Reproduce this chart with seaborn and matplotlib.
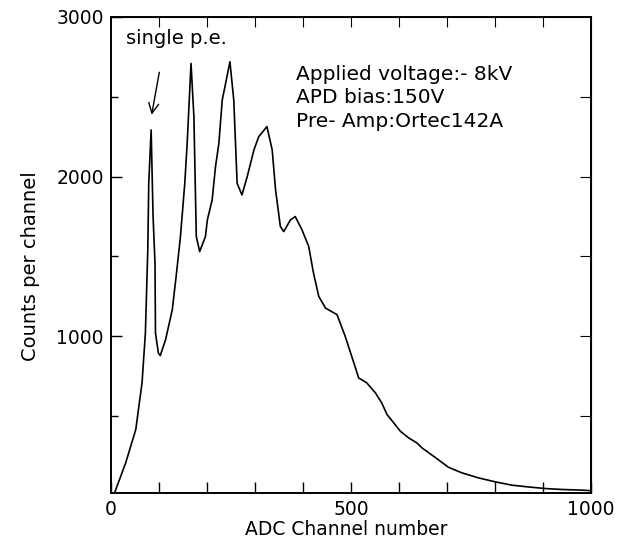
import numpy as np
import pandas as pd
import seaborn as sns
import matplotlib.pyplot as plt

# ADC spectrum
channel = [8, 31, 52, 65, 72, 77, 79, 84, 88, 92, 93, 99, 103, 114, 128, 136,
           145, 154, 159, 167, 173, 178, 185, 197, 201, 211, 218, 225, 232, 239,
           248, 256, 263, 273, 284, 298, 308, 325, 336, 343, 353, 360, 374, 384,
           398, 412, 422, 433, 447, 471, 488, 506, 516, 533, 551, 564, 575, 589,
           603, 620, 637, 648, 672, 703, 731, 765, 800, 835, 869, 904, 939, 980,
           998]
counts = [22, 209, 417, 709, 1021, 1542, 1958, 2292, 1750, 1459, 1021, 896, 880,
          979, 1167, 1375, 1625, 1958, 2208, 2708, 2375, 1625, 1531, 1625, 1729,
          1854, 2063, 2208, 2479, 2583, 2719, 2479, 1958, 1885, 2000, 2167, 2250,
          2313, 2167, 1917, 1688, 1656, 1729, 1750, 1667, 1563, 1396, 1250, 1177,
          1136, 1000, 834, 740, 709, 646, 584, 511, 459, 406, 365, 334, 302, 250,
          181, 146, 115, 90, 69, 58, 48, 42, 38, 35]

info_lines = ["Applied voltage:- 8kV", "APD bias:150V", "Pre- Amp:Ortec142A"]

df = pd.DataFrame({"ADC Channel number": channel, "Counts per channel": counts})

sns.set_style("ticks")
plt.rcParams["font.family"] = ["DejaVu Sans"]
plt.rcParams.update({
    "text.color": "black",
    "axes.labelcolor": "black",
    "axes.edgecolor": "black",
    "xtick.color": "black",
    "ytick.color": "black",
})

fig = plt.figure(figsize=(6.19, 5.42), dpi=100)
ax = fig.add_axes([0.179, 0.091, 0.776, 0.878])

sns.lineplot(data=df, x="ADC Channel number", y="Counts per channel",
             color="black", linewidth=1.2, ax=ax)

ax.set_xlim(0, 1000)
ax.set_ylim(22, 3000)

# x ticks every 100, labels only at 0 / 500 / 1000
ax.set_xticks(np.arange(0, 1001, 100))
ax.set_xticklabels([str(v) if v in (0, 500, 1000) else ""
                    for v in range(0, 1001, 100)])
ax.set_yticks([1000, 2000, 3000])
ax.set_yticks([500, 1500, 2500], minor=True)
ax.tick_params(axis="both", which="major", direction="in", length=8, width=1,
               labelsize=13.5, pad=5)
ax.tick_params(axis="y", which="minor", direction="in", length=5, width=1)

top = ax.secondary_xaxis("top")
top.set_xticks(np.arange(100, 1000, 100))
top.tick_params(direction="in", length=7, labeltop=False)
right = ax.secondary_yaxis("right")
right.set_yticks([500, 1000, 1500, 2000, 2500])
right.tick_params(direction="in", length=8, labelright=False)

for sp in ax.spines.values():
    sp.set_linewidth(1.4)

ax.set_xlabel("ADC Channel number", fontsize=13.5)
ax.set_ylabel("Counts per channel", fontsize=14)
ax.xaxis.set_label_coords(0.49, -0.058)
ax.yaxis.set_label_coords(-0.148, 0.477)

ax.text(31, 2867, "single p.e.", fontsize=14, va="center")
ax.annotate("", xy=(84, 2370), xytext=(102, 2670),
            arrowprops=dict(arrowstyle="->", color="black", lw=1,
                            mutation_scale=18))
for i, line in enumerate(info_lines):
    ax.text(385, 2642 - i * 150, line, fontsize=14.5, va="center")

fig.savefig("out.png", dpi=100)
